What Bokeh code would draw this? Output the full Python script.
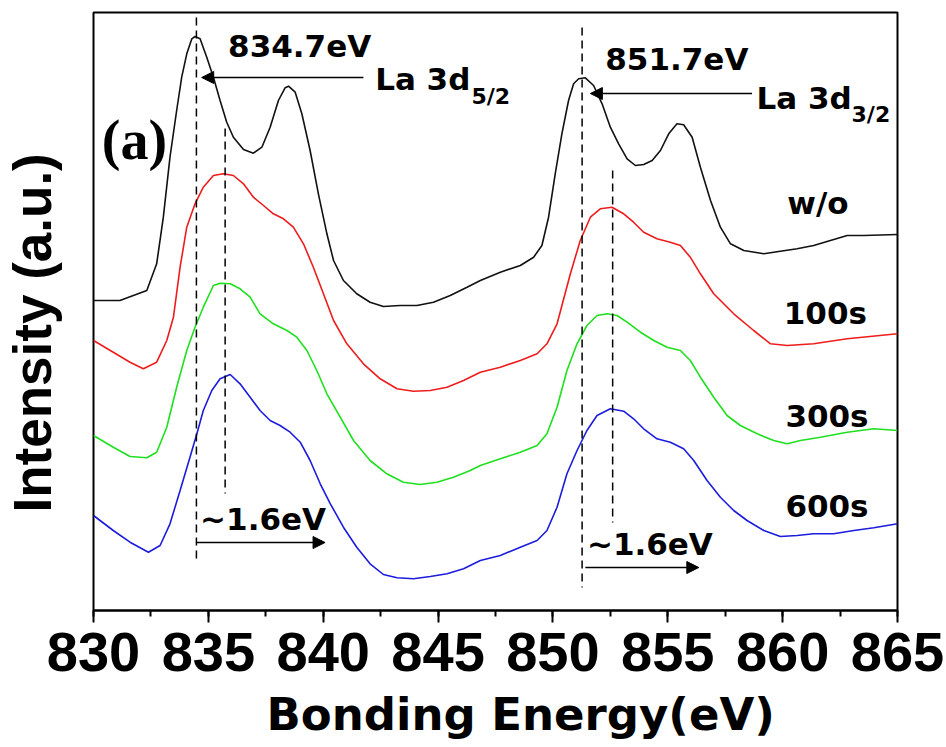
from bokeh.plotting import figure
from bokeh.models import (Label, Arrow, NormalHead, SingleIntervalTicker, FixedTicker, Range1d, Title)
from bokeh.embed import file_html
from bokeh.resources import INLINE

# ---------------- data ----------------
ev_wo = [830.0, 831.15, 832.32, 832.75, 833.04, 833.33, 833.62, 833.84, 834.06, 834.28, 834.42, 834.64,
         834.93, 835.22, 835.51, 835.8, 836.09, 836.53, 836.96, 837.33, 837.69, 838.05, 838.34, 838.49,
         838.78, 839.07, 839.43, 839.79, 840.16, 840.45, 840.88, 841.46, 842.04, 842.62, 843.35, 844.08,
         844.8, 845.53, 846.26, 846.84, 847.71, 848.58, 849.16, 849.52, 849.81, 850.1, 850.39, 850.68,
         850.9, 851.12, 851.41, 851.77, 852.14, 852.5, 852.86, 853.23, 853.59, 853.95, 854.32, 854.68,
         855.04, 855.4, 855.69, 856.06, 856.42, 856.86, 857.29, 857.73, 858.31, 859.18, 859.9, 860.63,
         861.35, 862.08, 862.81, 863.53, 865.0]
int_wo = [310, 310, 320, 346.7, 393.3, 453.3, 500, 533.3, 556.7, 571.7, 574, 571.7,
          553.3, 533.3, 510, 488.3, 473.3, 461, 457.3, 463.3, 483.3, 510, 522.7, 524.3,
          518.3, 496.7, 460, 416.7, 376.7, 350, 330, 316.7, 308.3, 304, 305, 305,
          308.3, 315, 323.3, 330, 338.3, 345, 353.3, 365, 393.3, 436.7, 476.7, 510,
          526.7, 531.7, 532.7, 525, 506.7, 483.3, 466.7, 451.7, 445, 446, 450, 460,
          476.7, 486.7, 485.7, 473.3, 443.3, 410, 383.3, 366.7, 360, 356.7, 359.3, 361.7,
          365, 370, 375, 375, 376]

ev_100 = [830.0, 830.86, 831.59, 832.17, 832.75, 833.19, 833.48, 833.77, 834.06, 834.42, 834.78, 835.22,
          835.65, 836.09, 836.53, 836.96, 837.4, 837.83, 838.27, 838.7, 839.14, 839.57, 840.01, 840.45,
          841.03, 841.75, 842.48, 843.21, 843.93, 844.66, 845.39, 846.11, 846.84, 847.71, 848.58, 849.31,
          849.74, 850.18, 850.76, 851.19, 851.63, 852.06, 852.57, 853.08, 853.51, 853.95, 854.53, 855.11,
          855.55, 855.98, 856.42, 857.0, 857.87, 858.74, 859.47, 860.2, 861.35, 862.81, 865.0]
int_100 = [270, 258.3, 248.3, 241.7, 248.3, 270, 293.3, 343.3, 383.3, 406.7, 423.3, 435,
           436.7, 435, 426.7, 413.3, 405, 396.7, 391.7, 383.3, 366.7, 343.3, 316.7, 290,
           266.7, 246.7, 231.7, 221.7, 219.3, 220, 223.3, 230, 238.3, 243.3, 250, 256.7,
           266.7, 286.7, 336.7, 370, 393.3, 401.7, 403.3, 396.7, 388.3, 378.3, 371.7, 368.3,
           365, 353.3, 336.7, 316.7, 296.7, 280, 266.7, 265, 266.7, 271.7, 276.7]

ev_300 = [830.0, 830.86, 831.59, 832.32, 832.75, 833.19, 833.62, 834.06, 834.42, 834.78, 835.22, 835.51,
          835.95, 836.38, 836.82, 837.25, 837.83, 838.42, 838.85, 839.29, 839.72, 840.16, 840.74, 841.32,
          842.04, 842.77, 843.49, 844.22, 844.95, 845.67, 846.4, 846.84, 847.71, 848.58, 849.31, 849.74,
          850.18, 850.61, 851.05, 851.48, 851.92, 852.36, 852.79, 853.23, 853.81, 854.39, 854.97, 855.55,
          855.98, 856.42, 857.0, 857.58, 858.16, 858.89, 859.61, 860.2, 860.77, 861.64, 862.81, 863.97, 865.0]
int_300 = [175, 163.3, 154, 152.7, 158.3, 183.3, 223.3, 260, 283.3, 303.3, 325, 327.3,
           326.7, 321.7, 313.3, 296.7, 286.7, 280, 273.3, 260, 240, 216.7, 193.3, 170,
           150, 136.7, 128.3, 126, 128.3, 133.3, 140, 145, 151.7, 158.3, 165, 176.7,
           203.3, 240, 266.7, 285, 295, 296.7, 295, 288.3, 278.3, 270, 263.3, 260,
           250, 233.3, 213.3, 195, 185, 176.7, 170, 166.7, 170, 173.3, 178.3, 181.7, 180]

ev_600 = [830.0, 830.86, 831.59, 832.39, 832.9, 833.33, 833.77, 834.2, 834.5, 834.78, 835.15, 835.51,
          835.95, 836.38, 836.82, 837.25, 837.69, 838.12, 838.56, 839.0, 839.43, 839.87, 840.31, 840.88,
          841.46, 842.04, 842.62, 843.21, 843.93, 844.66, 845.39, 846.11, 846.84, 847.71, 848.58, 849.31,
          849.74, 850.18, 850.61, 851.05, 851.48, 851.92, 852.5, 853.08, 853.51, 853.95, 854.53, 855.11,
          855.69, 856.13, 856.71, 857.29, 857.87, 858.45, 859.18, 859.9, 860.63, 861.35, 862.22, 863.1,
          863.97, 865.0]
int_600 = [95, 80, 68.3, 58.3, 65, 86.7, 120, 153.3, 176.7, 200, 220, 231.7,
           236, 226.7, 213.3, 200, 190, 185, 178.3, 168.3, 150, 126.7, 106.7, 83.3,
           63.3, 46.7, 36, 32.7, 31.7, 34, 36.7, 41.7, 50, 55, 63.3, 70,
           80, 103.3, 136.7, 160, 180, 195, 201.7, 199.3, 191.7, 181.7, 171.7, 168.3,
           161.7, 150, 130, 113.3, 100, 90, 80, 74, 75, 76.7, 76.7, 80,
           82.7, 86.7]

series_names = ["w/o", "100s", "300s", "600s"]
series_colors = ["#111111", "#ee1c1c", "#1ee01e", "#1c1cdd"]

# reference peak positions (dashed guide lines)
guide_x = [834.48, 835.73, 851.27, 852.6]
guide_top = [593, 482, 583, 440]
guide_bottom = [47, 117, 23, 88]

x_ticks_interval = 5

# ---------------- figure ----------------
p = figure(output_backend="svg", toolbar_location=None,
           frame_width=804, frame_height=598,
           min_border_left=93, min_border_right=48, min_border_top=12, min_border_bottom=100,
           x_range=Range1d(830, 865), y_range=Range1d(0, 598),
           background_fill_color="white", border_fill_color="white")

p.grid.visible = False
p.outline_line_color = "black"
p.outline_line_width = 2

ax = p.xaxis[0]
ax.ticker = SingleIntervalTicker(interval=x_ticks_interval, num_minor_ticks=2)
ax.axis_line_width = 2
ax.major_tick_line_width = 2
ax.minor_tick_line_width = 2
ax.major_tick_in = 0
ax.major_tick_out = 12
ax.minor_tick_in = 0
ax.minor_tick_out = 6
ax.major_label_text_font = "Liberation Sans"
ax.major_label_text_font_style = "bold"
ax.major_label_text_font_size = "56px"
ax.major_label_text_color = "black"
ax.major_label_standoff = 10

# y axis: acts only as an (invisible) spacer between the frame and the rotated title
ay = p.yaxis[0]
ay.ticker = FixedTicker(ticks=[590])
ay.major_label_overrides = {590: ""}
ay.axis_line_color = None
ay.major_tick_out = 30
ay.major_tick_in = 0
ay.major_tick_line_color = "white"
ay.major_tick_line_alpha = 0.01
ay.major_tick_line_width = 1
ay.minor_tick_out = 0
ay.minor_tick_in = 0
ay.minor_tick_line_color = None
ay.major_label_standoff = 0

p.add_layout(Title(text="Intensity (a.u.)", align="left", offset=98, standoff=0,
                   text_font="Liberation Sans", text_font_style="bold", text_font_size="53px",
                   text_color="black", vertical_align="top"), "left")

p.add_layout(Title(text="Bonding Energy(eV)", align="left", offset=173, standoff=28,
                   text_font="DejaVu Sans", text_font_style="bold", text_font_size="45px",
                   text_color="black", vertical_align="top"), "below")

xs = [ev_wo, ev_100, ev_300, ev_600]
ys = [int_wo, int_100, int_300, int_600]
for xv, yv, c in zip(xs, ys, series_colors):
    p.line(xv, yv, line_color=c, line_width=1.6)

p.segment(x0=guide_x, y0=guide_top, x1=guide_x, y1=guide_bottom,
          line_color="black", line_width=1.5, line_dash="8 5")

FONT = "DejaVu Sans"

def lab(x, y, text, size, font=FONT, style="bold"):
    p.add_layout(Label(x=x, y=y, text=text, text_font=font, text_font_style=style,
                       text_font_size=size, text_align="left", text_baseline="alphabetic",
                       text_color="black"))

# peak annotations
lab(835.86, 565, "834.7eV", "31px")
lab(842.26, 532, "La 3d", "31px")
lab(846.45, 514, "5/2", "22px")
lab(852.28, 552, "851.7eV", "31px")
lab(858.86, 513, "La 3d", "31px")
lab(863.0, 496, "3/2", "22px")

head = dict(size=12, fill_color="black", line_color="black")
p.add_layout(Arrow(end=NormalHead(**head), x_start=841.75, y_start=533, x_end=834.71, y_end=533,
                   line_color="black", line_width=1.5))
p.add_layout(Arrow(end=NormalHead(**head), x_start=858.67, y_start=517, x_end=851.63, y_end=517,
                   line_color="black", line_width=1.5))

# shift annotations
lab(834.64, 92, "~1.6eV", "31px")
lab(851.48, 67, "~1.6eV", "31px")
p.add_layout(Arrow(end=NormalHead(**head), x_start=834.5, y_start=68, x_end=840.08, y_end=68,
                   line_color="black", line_width=1.5))
p.add_layout(Arrow(end=NormalHead(**head), x_start=851.41, y_start=43, x_end=856.35, y_end=43,
                   line_color="black", line_width=1.5))

# series labels
lab(860.2, 408, series_names[0], "31px")
lab(860.05, 298, series_names[1], "31px")
lab(860.12, 195, series_names[2], "31px")
lab(860.12, 105, series_names[3], "31px")

# panel letter
lab(830.36, 471, "(a)", "56px", font="Liberation Serif")

open("out.html", "w").write(file_html(p, INLINE))
